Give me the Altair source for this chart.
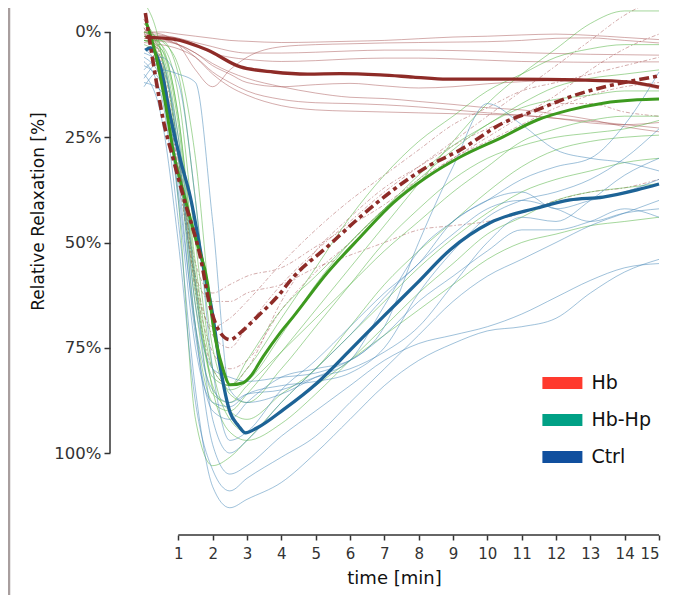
import altair as alt
import pandas as pd

# ---------------- data ----------------
T = [0, 0.5, 1, 1.5, 2, 2.5, 3, 4, 5, 6, 7, 8, 9, 10, 11, 12, 13, 14, 15]

hb_thin = {
    "R1": [0, 0.5, 3, 9, 13, 9, 6, 3.5, 3, 2.8, 2.6, 2.5, 2.4, 2.3, 2, 1.5, 1.4, 2, 2.6],
    "R2": [1, 1, 1.5, 2.5, 3.5, 4.5, 5, 5, 4.8, 4.5, 4.3, 4.3, 4.4, 4.6, 4.9, 5.1, 5.3, 5.4, 5.5],
    "R3": [0.5, 0.8, 1.5, 3, 5, 6, 6.5, 7, 6.8, 6.4, 6.2, 6.2, 6.4, 6.7, 7, 7.1, 7.2, 7.1, 7.1],
    "R4": [2, 2.2, 3, 5, 8, 10, 12, 13, 12.5, 12.2, 12.8, 13.3, 13, 12.3, 11.8, 11.5, 11.4, 12, 13.5],
    "R5": [1.5, 1.8, 3, 5, 7.5, 9.5, 11, 13, 14.5, 15.5, 15.8, 16.5, 17.2, 18, 18.5, 19.5, 20.8, 22.5, 23.7],
    "R6": [2.5, 3, 4, 6, 9.5, 12, 14, 16, 16.8, 17, 17.3, 17.8, 18.5, 19.2, 19.8, 20.5, 21.2, 22, 22.8],
    "R7": [1, 1.5, 3, 6, 10, 13, 15, 17.5, 18.5, 18.8, 19, 19.2, 19.4, 19.6, 19.8, 20.5, 21.6, 22, 21.5],
    "R8": [0, 0, 0.5, 1, 1.5, 2, 2.2, 2.5, 2.4, 2.2, 2, 1.6, 1.2, 1, 0.7, 0.5, 0.8, 1.3, 1.8],
}
dd_thin = {
    "D1": [-3, 8, 30, 58, 72, 75, 70, 60, 52, 45, 38, 32, 26, 20, 14, 8, 2, -4, -8],
    "D2": [-1, 10, 32, 55, 62, 60, 58, 56, 51, 46, 41, 35, 30, 25, 20, 15, 9, 4, 0.5],
    "D3": [0, 12, 35, 58, 64, 64, 62, 60, 56, 53, 50, 47, 46, 45, 43, 40, 38, 37, 35],
    "D4": [-2, 6, 28, 60, 76, 80, 78, 66, 57, 50, 42, 36, 30, 26, 22, 18, 15, 13, 12],
    "D5": [-1, 8, 30, 62, 80, 84, 80, 64, 52, 44, 37, 32, 27, 23, 20, 17, 17, 19, 20],
    "D6": [-3, 7, 33, 60, 70, 68, 64, 55, 47, 40, 34, 28, 22, 18, 14, 12, 10, 8, 6],
}
green_thin = {
    "G1": [-7, 5, 40, 92, 103, 101, 97, 88, 80, 72, 64, 56, 49, 43, 38, 35, 33, 31, 30],
    "G2": [-2, 5, 30, 70, 88, 90, 86, 76, 66, 56, 46, 36, 26, 17, 10, 4, -2, -5, -5],
    "G3": [0, 3, 20, 55, 80, 84, 80, 68, 56, 44, 34, 26, 20, 14, 10, 6, 4, 3, 3],
    "G4": [2, 2, 10, 40, 75, 85, 83, 72, 60, 50, 42, 34, 27, 22, 17, 13, 11, 10, 9],
    "G5": [1, 4, 22, 60, 82, 84, 78, 66, 58, 50, 42, 35, 28, 22, 18, 16, 15, 14, 14],
    "G6": [3, 6, 28, 65, 86, 88, 84, 76, 68, 60, 52, 45, 38, 32, 26, 23, 21, 20, 20],
    "G7": [0, 2, 8, 30, 70, 86, 88, 80, 70, 60, 50, 42, 35, 30, 27, 25, 24, 23, 21],
    "G8": [2, 5, 25, 62, 84, 90, 92, 86, 80, 70, 60, 52, 45, 38, 32, 28, 26, 25, 24.5],
    "G9": [1, 3, 15, 50, 80, 92, 95, 90, 84, 78, 72, 66, 60, 54, 50, 48, 46, 45, 44],
    "G10": [2, 4, 20, 58, 85, 95, 97, 93, 86, 78, 70, 62, 55, 48, 44, 40, 38, 37, 36],
}
blue_thin = {
    "B1": [7, 15, 45, 85, 108, 113, 111, 107, 100, 92, 84, 78, 74, 71, 70, 68, 62, 57, 54],
    "B2": [10, 20, 50, 88, 104, 109, 106, 101, 96, 88, 80, 72, 64, 58, 54, 50, 46, 43, 40],
    "B3": [12, 14, 30, 70, 98, 105, 103, 96, 90, 84, 78, 74, 72, 70, 67, 63, 59, 56, 55],
    "B4": [5, 8, 25, 60, 92, 100, 97, 88, 80, 72, 63, 55, 48, 42, 40, 42, 45, 43, 42],
    "B5": [9, 6, 12, 40, 80, 97, 95, 85, 78, 70, 62, 55, 45, 40, 35, 32, 30, 22, 9.5],
    "B6": [4, 10, 35, 72, 90, 92, 88, 82, 80, 78, 70, 50, 32, 17, 22, 28, 30, 31, 33],
    "B7": [13, 9, 10, 12, 45, 85, 88, 86, 82, 78, 65, 52, 45, 40, 38, 42, 40, 38, 35],
    "B8": [8, 12, 38, 70, 85, 88, 86, 85, 82, 80, 76, 70, 60, 50, 44, 45, 40, 34, 30],
    "B9": [6, 11, 40, 75, 88, 89, 86, 84, 83, 81, 75, 62, 52, 44, 40, 38, 35, 30, 23],
    "B10": [11, 7, 28, 65, 80, 82, 83, 82, 81, 78, 72, 64, 58, 52, 47, 47, 45, 42, 44],
}

hb_mean_t = [0.04, 0.86, 1.85, 2.81, 3.77, 4.76, 5.72, 6.88, 7.84, 8.83, 10.75, 12.70, 14.16, 15.0]
hb_mean_v = [1.2, 1.7, 4.3, 8.3, 9.5, 10.0, 9.9, 10.2, 10.7, 11.2, 11.2, 11.4, 11.9, 13.1]

dd_mean_t = [0.04, 0.27, 0.56, 0.86, 1.15, 1.64, 1.93, 2.22, 2.51, 2.81, 3.30, 3.88, 4.35, 5.34,
             6.30, 7.26, 8.25, 9.21, 10.46, 11.45, 12.41, 13.37, 14.36, 15.0]
dd_mean_v = [-4.5, 7.4, 20.9, 30.4, 39.2, 53.4, 65.3, 71.4, 73.1, 71.4, 67.6, 62.9, 58.2, 51.0,
             43.9, 37.5, 32.0, 28.0, 21.6, 18.5, 15.4, 13.1, 11.4, 10.4]

green_mean_t = [0.07, 0.33, 0.62, 0.86, 1.15, 1.5, 1.85, 2.02, 2.28, 2.51, 2.89, 3.09, 3.47, 3.97,
                4.35, 5.34, 6.30, 7.26, 8.25, 9.21, 10.46, 11.45, 12.41, 13.37, 14.36, 15.0]
green_mean_v = [-2.2, 5.0, 16.9, 28.7, 38.2, 49.0, 59.6, 70.0, 79.5, 83.8, 83.3, 81.9, 77.1, 71.4,
                67.6, 57.2, 48.7, 40.6, 34.4, 29.7, 24.9, 20.9, 18.5, 16.9, 16.1, 15.9]

blue_mean_t = [0.04, 0.19, 0.48, 0.77, 1.06, 1.35, 1.73, 1.99, 2.22, 2.51, 2.75, 2.95, 3.3, 4.06,
               5.05, 6.01, 6.97, 7.96, 8.92, 10.08, 11.45, 12.41, 13.37, 14.36, 15.0]
blue_mean_v = [4.3, 3.8, 8.3, 20.2, 30.4, 39.2, 55.8, 66.7, 79.5, 90.4, 93.5, 95.2, 94.0, 89.7,
               83.3, 75.5, 67.6, 59.6, 51.7, 45.3, 41.8, 39.9, 39.2, 37.5, 36.1]

legend_groups = ["Hb", "Hb-Hp", "Ctrl"]
legend_colors = ["#FF3A2E", "#00A085", "#104F9E"]

y_ticks = [0, 25, 50, 75, 100]
x_ticks = list(range(1, 16))
y_frame = [0, 100]
x_frame = [1, 15]

# ---------------- layout ----------------
W, H = 515, 524
FONT = "DejaVu Sans"

xs = alt.Scale(domain=[0, 15], nice=False, zero=False)
ys = alt.Scale(domain=[-5.7, 118.76], reverse=True, nice=False, zero=False)

X_AXIS = alt.Axis(
    values=x_ticks, tickCount=30, format="d", domain=False, grid=False, offset=3,
    labelOverlap=False,
    tickSize=5, tickWidth=1.5, tickColor="#333",
    labelPadding=6, labelFontSize=15, labelFont=FONT, labelColor="#333",
    title="time [min]", titleFontSize=18, titleFont=FONT, titleFontWeight="normal",
    titleColor="#111", titleX=250, titleY=48, titleBaseline="alphabetic")
Y_AXIS = alt.Axis(
    values=y_ticks, tickCount=10, labelExpr="datum.value + '%'", domain=False, grid=False,
    offset=34, labelOverlap=False,
    tickSize=6, tickWidth=1.5, tickColor="#333",
    labelPadding=3, labelFontSize=16.5, labelFont=FONT, labelColor="#333",
    title="Relative Relaxation [%]", titleFontSize=17, titleFont=FONT,
    titleFontWeight="normal", titleColor="#111", titleX=-67, titleY=203,
    titleBaseline="alphabetic", titleAngle=270)


def long_df(d):
    rows = []
    for k, vals in d.items():
        for t, v in zip(T, vals):
            rows.append({"id": k, "t": t, "v": v})
    return pd.DataFrame(rows)


def mean_df(ts, vs):
    return pd.DataFrame({"t": ts, "v": vs})


def thin(d, color, dash=None, width=1.0, op=0.5, axes=False):
    kw = dict(color=color, strokeWidth=width, strokeOpacity=op, interpolate="monotone")
    if dash:
        kw["strokeDash"] = dash
    if axes:
        xe = alt.X("t:Q", scale=xs, axis=X_AXIS)
        ye = alt.Y("v:Q", scale=ys, axis=Y_AXIS)
    else:
        xe = alt.X("t:Q", scale=xs)
        ye = alt.Y("v:Q", scale=ys)
    return alt.Chart(long_df(d)).mark_line(**kw).encode(x=xe, y=ye, detail="id:N")


def thick(ts, vs, color, dash=None, width=3.3):
    kw = dict(color=color, strokeWidth=width, interpolate="monotone")
    if dash:
        kw["strokeDash"] = dash
    return alt.Chart(mean_df(ts, vs)).mark_line(**kw).encode(
        x=alt.X("t:Q", scale=xs),
        y=alt.Y("v:Q", scale=ys),
    )


y_rule = alt.Chart(pd.DataFrame({"a": [y_frame[0]], "b": [y_frame[1]]})).mark_rule(
    color="#333", strokeWidth=1.5).encode(
    y=alt.Y("a:Q", scale=ys), y2="b:Q", x=alt.value(-34))

x_rule = alt.Chart(pd.DataFrame({"a": [x_frame[0]], "b": [x_frame[1]]})).mark_rule(
    color="#333", strokeWidth=1.5).encode(
    x=alt.X("a:Q", scale=xs), x2="b:Q", y=alt.value(H + 3))

border = alt.Chart(pd.DataFrame({"a": [0]})).mark_rule(color="#A89E9E", strokeWidth=2.5).encode(
    x=alt.value(-135), y=alt.value(0), y2=alt.value(590))

legend_layer = alt.Chart(pd.DataFrame({"group": legend_groups})).mark_rect().encode(
    x=alt.value(0), x2=alt.value(0), y=alt.value(0), y2=alt.value(0),
    fill=alt.Fill("group:N", scale=alt.Scale(domain=legend_groups, range=legend_colors),
                  legend=alt.Legend(title=None, orient="none", legendX=408.4, legendY=365,
                                    symbolType="M-2,-0.6H2V0.6H-2Z", symbolSize=400,
                                    symbolStrokeWidth=0, symbolOpacity=1,
                                    labelFontSize=19, labelFont=FONT, labelColor="#111",
                                    labelOffset=19, rowPadding=17, padding=0)),
)

chart = alt.layer(
    thin(hb_thin, "#A04848", op=0.45, axes=True),
    thin(dd_thin, "#A04848", dash=[4, 2, 1.5, 2], width=0.9, op=0.5),
    thin(green_thin, "#4CAF3A", op=0.5),
    thin(blue_thin, "#3F84B5", op=0.5),
    thick(blue_mean_t, blue_mean_v, "#1D6396", width=3.3),
    thick(green_mean_t, green_mean_v, "#3D9A1F", width=3.0),
    thick(dd_mean_t, dd_mean_v, "#8E2B27", dash=[10, 4, 4, 4], width=3.6),
    thick(hb_mean_t, hb_mean_v, "#8E2B27", width=3.3),
    y_rule,
    x_rule,
    border,
    legend_layer,
).properties(
    width=W, height=H,
    autosize=alt.AutoSizeParams(type="none"),
    padding={"left": 136, "top": 0, "right": 25, "bottom": 63},
).configure(
    background="white",
    view=alt.ViewConfig(strokeWidth=0),
)

chart.save("out.html", embed_options={"renderer": "svg", "actions": False})
